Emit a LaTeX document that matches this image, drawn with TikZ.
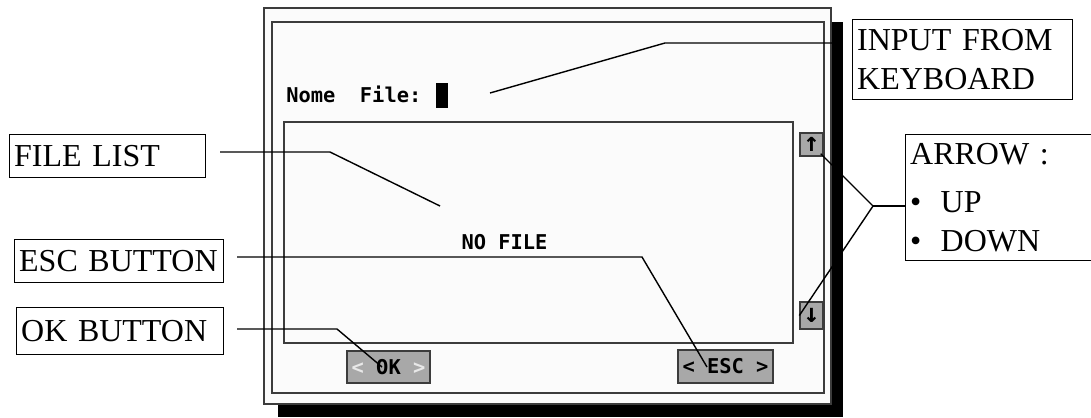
\documentclass[tikz,border=0pt]{standalone}
\usepackage{fontspec}
\setmainfont{Liberation Serif}
\newfontfamily\scrfont{DejaVu Sans Mono}
\usetikzlibrary{positioning, calc}

\definecolor{scrbg}{HTML}{FBFBFB}
\definecolor{btngray}{HTML}{A8A8A8}
\definecolor{framegray}{HTML}{3C3C3C}
\definecolor{lightglyph}{HTML}{E8E8E8}

\tikzset{
  labelbox/.style={draw, line width=0.8pt, anchor=north west, inner xsep=0.09cm,
    inner ysep=0pt, align=left, font=\fontsize{18.2}{22}\selectfont},
  scrtext/.style={font=\scrfont\bfseries\fontsize{11.6}{14}\selectfont, inner sep=0pt},
  btn/.style={draw=framegray, fill=btngray, line width=0.8pt, scrtext},
  scrollbtn/.style={btn, font=\scrfont\bfseries\fontsize{15}{15}\selectfont, minimum width=0.46cm},
  frameline/.style={draw=framegray, line width=0.9pt},
  leader/.style={line width=0.8pt},
}

\begin{document}
\begin{tikzpicture}[x=0.02cm, y=-0.02cm]
    \clip (0,0) rectangle (1091,417);

    % screen with its shadow
    \fill[black] (278,22) rectangle (843,417);
    \filldraw[frameline, fill=scrbg] (264,8) rectangle (831,404);
    \draw[frameline] (272,22) rectangle (824,393);
    \draw[frameline] (284,122) rectangle (793,343);

    \node[scrtext, anchor=base west] (nome) at (286,102) {Nome\ \ File:};
    \node[fill, inner sep=0pt, minimum width=0.24cm, minimum height=0.5cm,
        anchor=north west] (cursor) at (436,83) {};
    \node[scrtext] (nofile) at (504.5,242.5) {NO FILE};

    \node[scrollbtn, minimum height=0.46cm] (up) at (811.5,144.5) {↑};
    \node[scrollbtn, minimum height=0.54cm] (down) at (811.5,315.5) {↓};

    \node[btn, minimum width=1.66cm, minimum height=0.64cm] (ok) at (388.5,367)
        {\textcolor{lightglyph}{<} OK \textcolor{lightglyph}{>}};
    \node[btn, minimum width=1.9cm, minimum height=0.66cm] (esc) at (725.5,366.5)
        {< ESC >};

    % labels
    \node[labelbox, text width=3.74cm, minimum height=0.86cm] (filelist) at (9,134) {FILE LIST};
    \node[labelbox, text width=4.0cm, minimum height=0.86cm] (escbtn) at (14,239) {ESC BUTTON};
    \node[labelbox, text width=3.96cm, minimum height=0.94cm] (okbtn) at (16,307) {OK BUTTON};
    \node[labelbox, text width=4.22cm, minimum height=1.60cm] (keyboard) at (852,19)
        {INPUT FROM\\KEYBOARD};
    \node[labelbox, text width=3.82cm, minimum height=2.52cm] (arrows) at (905,134)
        {ARROW :\\[5pt]\textbullet\hspace{11pt}UP\\\textbullet\hspace{11pt}DOWN};

    % leaders
    \coordinate (fl-a) at (220,152);
    \coordinate (fl-b) at (330,152);
    \coordinate (fl-c) at (440,206);
    \coordinate (esc-a) at (237,257);
    \coordinate (esc-b) at (642,257);
    \coordinate (esc-c) at (707,367);
    \coordinate (ok-a) at (237,329);
    \coordinate (ok-b) at (337,329);
    \coordinate (ok-c) at (382,367);
    \coordinate (kb-a) at (490,93);
    \coordinate (kb-b) at (665,43);
    \coordinate (kb-c) at (840,43);
    \coordinate (ar-j) at (873,206);

    \draw[leader] (fl-a) -- (fl-b) -- (fl-c);
    \draw[leader] (esc-a) -- (esc-b) -- (esc-c);
    \draw[leader] (ok-a) -- (ok-b) -- (ok-c);
    \draw[leader] (kb-a) -- (kb-b) -- (kb-c);
    \draw[leader] ($(up.south east)+(-3,-3)$) -- (ar-j) -- (down.west);
    \draw[leader] (ar-j) -- (arrows.west |- ar-j);
\end{tikzpicture}
\end{document}
